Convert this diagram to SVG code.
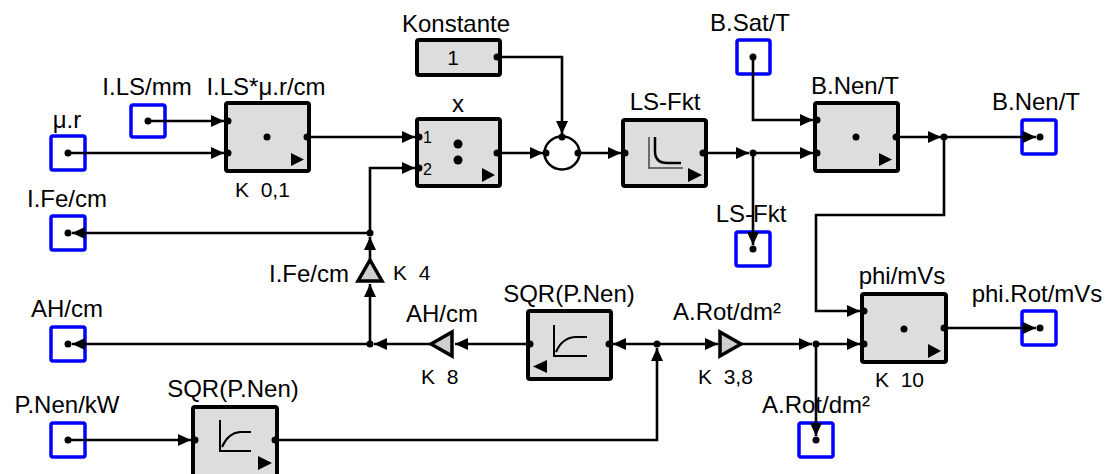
<svg xmlns="http://www.w3.org/2000/svg" width="1105" height="474" viewBox="0 0 1105 474">
<style>
text{font-family:"Liberation Sans",Arial,sans-serif;fill:#000}
.lbl{font-size:24px;text-anchor:middle}
.k{font-size:21px;white-space:pre}
.io{fill:#fff;stroke:#0000ff;stroke-width:3.5}
.blk{fill:#dddddd;stroke:#000;stroke-width:4}
.gain{fill:#cfcfcf;stroke:#000;stroke-width:3.5;stroke-linejoin:miter}
.wire{fill:none;stroke:#000;stroke-width:2.6}
.arr{marker-end:url(#ah)}
.ic{fill:none;stroke:#000;stroke-width:2}
.tri{fill:#000}
</style>
<defs>
<marker id="ah" markerUnits="userSpaceOnUse" markerWidth="13" markerHeight="12" refX="13" refY="6" orient="auto">
<path d="M0,0 L13,6 L0,12 z" fill="#000"/>
</marker>
</defs>
<rect width="1105" height="474" fill="#fff"/>

<g id="in_ILS">
<text class="lbl" x="147" y="95">I.LS/mm</text>
<rect class="io" x="131" y="105" width="34" height="32" rx="2"/>
<circle cx="148" cy="121" r="3.5"/>
</g>
<g id="in_mur">
<text class="lbl" x="67" y="128">μ.r</text>
<rect class="io" x="51" y="136" width="34" height="34" rx="2"/>
<circle cx="68" cy="153" r="3.5"/>
</g>
<g id="out_IFe">
<text class="lbl" x="67" y="207">I.Fe/cm</text>
<rect class="io" x="51" y="216" width="34" height="34" rx="2"/>
<circle cx="68" cy="233" r="3.5"/>
</g>
<g id="out_AH">
<text class="lbl" x="67" y="317">AH/cm</text>
<rect class="io" x="51" y="327" width="34" height="34" rx="2"/>
<circle cx="68" cy="344" r="3.5"/>
</g>
<g id="in_PNen">
<text class="lbl" x="67" y="413">P.Nen/kW</text>
<rect class="io" x="51" y="423" width="34" height="34" rx="2"/>
<circle cx="68" cy="440" r="3.5"/>
</g>

<g id="blk_LSmu">
<text class="lbl" x="266" y="95">I.LS*μ.r/cm</text>
<rect class="blk" x="226" y="103" width="83" height="68" rx="2"/>
<circle cx="228" cy="121" r="3.5"/>
<circle cx="228" cy="153" r="3.5"/>
<circle cx="267" cy="137" r="3.5"/>
<circle cx="307" cy="137" r="3.5"/>
<polygon class="tri" points="291,153 304,159.5 291,166"/>
<text class="k" x="235" y="197">K  0,1</text>
</g>

<g id="konst">
<text class="lbl" x="456" y="32">Konstante</text>
<rect class="blk" x="417" y="40" width="83" height="35" rx="2"/>
<text x="453" y="65" style="font-size:21px;text-anchor:middle">1</text>
<circle cx="497" cy="57" r="3.5"/>
</g>

<g id="blk_div">
<text class="lbl" x="458" y="112">x</text>
<rect class="blk" x="417" y="119" width="83" height="67" rx="2"/>
<circle cx="419" cy="137" r="3.5"/>
<circle cx="419" cy="168" r="3.5"/>
<text x="423" y="143" style="font-size:16px">1</text>
<text x="423" y="175" style="font-size:16px">2</text>
<circle cx="458" cy="144" r="4.5"/>
<circle cx="458" cy="160" r="4.5"/>
<circle cx="497" cy="153" r="3.5"/>
<polygon class="tri" points="482,168 495,175 482,182"/>
</g>

<g id="sum">
<ellipse cx="562" cy="153" rx="17.5" ry="16.5" fill="#fff" stroke="#000" stroke-width="2.5"/>
<circle cx="546" cy="153" r="3.5"/>
<circle cx="562" cy="137" r="3.5"/>
<circle cx="578" cy="153" r="3.5"/>
</g>

<g id="blk_LSFkt">
<text class="lbl" x="665" y="110">LS-Fkt</text>
<rect class="blk" x="623" y="120" width="83" height="66" rx="2"/>
<circle cx="625" cy="153" r="3.5"/>
<path d="M649,137 V168 H683" fill="none" stroke="#444" stroke-width="1.5"/>
<path d="M655,137 V151 Q655,163 667,163 H681" fill="none" stroke="#000" stroke-width="2.5"/>
<circle cx="703" cy="153" r="3.5"/>
<polygon class="tri" points="688,168 702,175 688,182"/>
</g>

<g id="in_BSat">
<text class="lbl" x="750" y="31">B.Sat/T</text>
<rect class="io" x="737" y="40" width="33" height="34" rx="2"/>
<circle cx="753" cy="57" r="3.5"/>
</g>

<g id="out_LSFkt">
<text class="lbl" x="751" y="222">LS-Fkt</text>
<rect class="io" x="736" y="232" width="34" height="34" rx="2"/>
<circle cx="753" cy="249" r="3.5"/>
</g>

<g id="blk_BNen">
<text class="lbl" x="855" y="94">B.Nen/T</text>
<rect class="blk" x="815" y="103" width="83" height="68" rx="2"/>
<circle cx="817" cy="120" r="3.5"/>
<circle cx="817" cy="153" r="3.5"/>
<circle cx="856" cy="137" r="3.5"/>
<circle cx="896" cy="137" r="3.5"/>
<polygon class="tri" points="879,153 892,159.5 879,166"/>
</g>

<g id="out_BNen">
<text class="lbl" x="1036" y="110">B.Nen/T</text>
<rect class="io" x="1022" y="120" width="34" height="34" rx="2"/>
<circle cx="1040" cy="137" r="3.5"/>
</g>

<g id="gain_IFe">
<polygon class="gain" points="370,260 382,281 358,281"/>
<text x="349" y="282" style="font-size:24px;text-anchor:end">I.Fe/cm</text>
<text class="k" x="393" y="280">K  4</text>
</g>

<g id="gain_AH">
<polygon class="gain" points="431,344 452,332 452,356"/>
<text class="lbl" x="442" y="322">AH/cm</text>
<text class="k" x="421" y="384">K  8</text>
</g>

<g id="blk_SQR1">
<text class="lbl" x="569" y="302">SQR(P.Nen)</text>
<rect class="blk" x="528" y="311" width="83" height="68" rx="2"/>
<path class="ic" d="M554,325 V356 H587"/>
<path class="ic" d="M556,352 Q562,338 575,337 H587"/>
<circle cx="609" cy="344" r="3.5"/>
<circle cx="530" cy="344" r="3.5"/>
<polygon class="tri" points="547,360 533,366.5 547,373"/>
</g>

<g id="gain_ARot">
<polygon class="gain" points="741,344 720,332 720,356"/>
<text class="lbl" x="727" y="320">A.Rot/dm²</text>
<text class="k" x="698" y="384">K  3,8</text>
</g>

<g id="blk_phi">
<text class="lbl" x="902" y="284">phi/mVs</text>
<rect class="blk" x="862" y="294" width="84" height="68" rx="2"/>
<circle cx="864" cy="311" r="3.5"/>
<circle cx="864" cy="344" r="3.5"/>
<circle cx="904" cy="329" r="3.5"/>
<circle cx="944" cy="328" r="3.5"/>
<polygon class="tri" points="928,344 941,351 928,358"/>
<text class="k" x="875" y="387">K  10</text>
</g>

<g id="out_phiRot">
<text class="lbl" x="1037" y="302">phi.Rot/mVs</text>
<rect class="io" x="1022" y="311" width="34" height="34" rx="2"/>
<circle cx="1040" cy="328" r="3.5"/>
</g>

<g id="out_ARot">
<text class="lbl" x="816" y="413">A.Rot/dm²</text>
<rect class="io" x="799" y="423" width="34" height="34" rx="2"/>
<circle cx="816" cy="440" r="3.5"/>
</g>

<g id="blk_SQR2">
<text class="lbl" x="233" y="397">SQR(P.Nen)</text>
<rect class="blk" x="193" y="407" width="84" height="70" rx="2"/>
<circle cx="195" cy="440" r="3.5"/>
<path class="ic" d="M220,420 V451 H251"/>
<path class="ic" d="M222,447 Q228,433 240,432 H251"/>
<circle cx="275" cy="440" r="3.5"/>
<polygon class="tri" points="258,456 272,463 258,470"/>
</g>

<g id="connectors">
<path class="wire arr" d="M148,121 H224"/>
<path class="wire arr" d="M68,153 H224"/>
<path class="wire arr" d="M309,137 H415"/>
<path class="wire arr" d="M370,233 V168 H415"/>
<path class="wire arr" d="M500,57 H562 V134"/>
<path class="wire arr" d="M500,153 H543"/>
<path class="wire arr" d="M580,153 H621"/>
<path class="wire arr" d="M706,153 H749"/>
<path class="wire arr" d="M753,153 H813"/>
<path class="wire arr" d="M753,153 V245"/>
<path class="wire arr" d="M753,57 V120 H813"/>
<path class="wire arr" d="M898,137 H941"/>
<path class="wire arr" d="M944,137 H1036"/>
<path class="wire arr" d="M944,137 V215 H816 V311 H860"/>
<path class="wire arr" d="M277,440 H657 V348"/>
<path class="wire arr" d="M657,344 H613"/>
<path class="wire arr" d="M528,344 H455"/>
<path class="wire arr" d="M430,344 H374"/>
<path class="wire arr" d="M370,344 H72"/>
<path class="wire arr" d="M370,344 V284"/>
<path class="wire arr" d="M370,260 V237"/>
<path class="wire arr" d="M370,233 H72"/>
<path class="wire arr" d="M657,344 H718"/>
<path class="wire arr" d="M741,344 H812"/>
<path class="wire arr" d="M816,344 H860"/>
<path class="wire arr" d="M816,344 V436"/>
<path class="wire arr" d="M946,328 H1036"/>
<path class="wire arr" d="M68,440 H191"/>
<circle cx="370" cy="233" r="3.5"/>
<circle cx="370" cy="344" r="3.5"/>
<circle cx="657" cy="344" r="3.5"/>
<circle cx="753" cy="153" r="3.5"/>
<circle cx="944" cy="137" r="3.5"/>
<circle cx="816" cy="344" r="3.5"/>
</g>
</svg>
